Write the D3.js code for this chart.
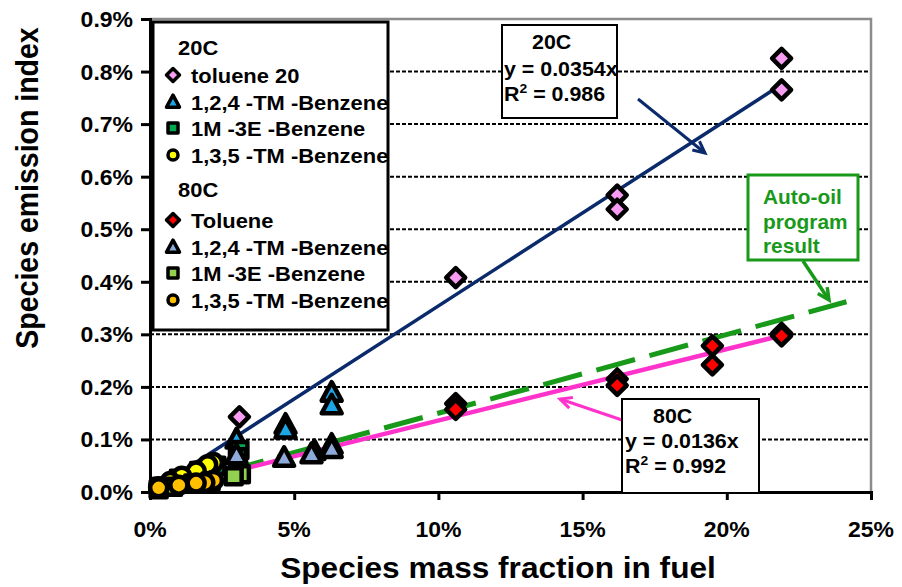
<!DOCTYPE html>
<html>
<head>
<meta charset="utf-8">
<script src="https://cdn.jsdelivr.net/npm/d3@7"></script>
<style>
  html, body { margin: 0; padding: 0; background: #fff; }
  svg { display: block; }
  text { font-family: "Liberation Sans", Arial, sans-serif; font-weight: bold; }
</style>
</head>
<body>
<svg id="chart" width="902" height="587"></svg>
<script>
// Axis ticks (percent)
const xTicks = [0, 5, 10, 15, 20, 25];
const yTicks = [0, 0.1, 0.2, 0.3, 0.4, 0.5, 0.6, 0.7, 0.8, 0.9];

// Measured points: [mass fraction in fuel %, emission index %]
const toluene20 = [[21.9, 0.825], [21.9, 0.765], [16.2, 0.565], [16.2, 0.538], [10.6, 0.408], [3.1, 0.143]];
const tmb124_20 = [[6.3, 0.189], [6.3, 0.165], [4.7, 0.128], [4.7, 0.119], [3.0, 0.100]];
const m3e_20 = [[3.1, 0.080], [3.05, 0.066], [2.3, 0.050], [1.7, 0.040], [1.0, 0.025], [0.4, 0.010]];
const tmb135_20 = [[2.2, 0.056], [2.0, 0.052], [1.6, 0.040], [1.1, 0.030], [0.7, 0.020], [0.3, 0.010]];
const toluene80 = [[21.9, 0.302], [21.9, 0.297], [19.5, 0.278], [19.5, 0.242], [16.2, 0.215], [16.2, 0.203], [10.6, 0.168], [10.6, 0.157]];
const tmb124_80 = [[6.3, 0.090], [6.3, 0.082], [5.7, 0.078], [5.6, 0.072], [4.65, 0.065], [3.0, 0.070]];
const m3e_80 = [[3.15, 0.034], [2.9, 0.030], [2.1, 0.020], [1.5, 0.016], [0.8, 0.010], [0.3, 0.005]];
const tmb135_80 = [[2.2, 0.022], [1.9, 0.018], [1.6, 0.017], [1.0, 0.013], [0.3, 0.008]];

// Fitted trend lines through the origin: slope and x extent
const fit20 = { slope: 0.0354, x0: 0.3, x1: 21.9 };
const fit80 = { slope: 0.0136, x0: 0.3, x1: 21.9 };
// Auto-oil program result line: two end points
const autoOil = [[2.6, 0.039], [24.15, 0.362]];

const svg = d3.select("#chart");
const SX = 1.07; // horizontal widening of the lettering

const x = d3.scaleLinear().domain([0, 25]).range([150, 871]);
const y = d3.scaleLinear().domain([0, 0.9]).range([492, 19]);

function label(g, txt, px, py, size, anchor, fill, sx) {
  return g.append("text")
    .attr("transform", `translate(${px},${py}) scale(${sx || SX},1)`)
    .attr("text-anchor", anchor || "start")
    .attr("font-size", size)
    .attr("fill", fill || "#000")
    .text(txt);
}

// Dashed gridlines
svg.append("g").selectAll("line")
  .data(yTicks.filter(d => d > 0 && d < 0.9))
  .join("line")
  .attr("x1", x(0)).attr("x2", x(25))
  .attr("y1", d => y(d)).attr("y2", d => y(d))
  .attr("stroke", "#000").attr("stroke-width", 2)
  .attr("stroke-dasharray", "4,2");

// Plot frame (top and right)
svg.append("path")
  .attr("d", `M${x(0)},${y(0.9)} H${x(25)} V${y(0)}`)
  .attr("fill", "none").attr("stroke", "#8c8c8c").attr("stroke-width", 2.5);

// Axes
const xAxis = d3.axisBottom(x).tickValues(xTicks).tickSize(8).tickFormat("");
const yAxis = d3.axisLeft(y).tickValues(yTicks).tickSize(9).tickFormat("");
const gx = svg.append("g").attr("transform", `translate(0,${y(0)})`).call(xAxis);
const gy = svg.append("g").attr("transform", `translate(${x(0)},0)`).call(yAxis);
[gx, gy].forEach(g => {
  g.select(".domain").attr("stroke", "#000").attr("stroke-width", 3);
  g.selectAll(".tick line").attr("stroke", "#000").attr("stroke-width", 3);
});

// Tick labels
const tl = svg.append("g");
xTicks.forEach(t => label(tl, t + "%", x(t), 537, 21.5, "middle"));
yTicks.forEach(t => label(tl, t.toFixed(1) + "%", 133, y(t) + 8, 21.5, "end"));

// Axis titles
label(svg, "Species mass fraction in fuel", 498, 578, 29, "middle", "#000", 1.09);
svg.append("text")
  .attr("transform", `translate(38,188) rotate(-90) scale(1,1.1)`)
  .attr("text-anchor", "middle").attr("font-size", 28.5)
  .text("Species emission index");

// Trend lines
const line = d3.line().x(d => x(d[0])).y(d => y(d[1]));
const fitPts = f => [[f.x0, f.slope * f.x0], [f.x1, f.slope * f.x1]];
const lines = svg.append("g");
lines.append("path").attr("d", line(autoOil))
  .attr("stroke", "#18991a").attr("stroke-width", 5).attr("fill", "none")
  .attr("stroke-dasharray", "40,15");
lines.append("path").attr("d", line(fitPts(fit80)))
  .attr("stroke", "#ff33cc").attr("stroke-width", 4.5).attr("fill", "none");
lines.append("path").attr("d", line(fitPts(fit20)))
  .attr("stroke", "#0b2a6b").attr("stroke-width", 3.5).attr("fill", "none");

// Marker shapes
const shapes = {
  diamond: r => `M0,${-r}L${r},0L0,${r}L${-r},0Z`,
  triangle: r => `M0,${-r * 1.05}L${r},${r * 0.8}L${-r},${r * 0.8}Z`,
  square: r => `M${-r},${-r}H${r}V${r}H${-r}Z`,
  circle: r => `M${r},0A${r},${r} 0 1,1 ${-r},0A${r},${r} 0 1,1 ${r},0Z`
};

const series = [
  { name: "toluene 20", data: toluene20, shape: "diamond", r: 9.5, fill: "#f79cf2" },
  { name: "1,2,4 -TM -Benzene", data: tmb124_20, shape: "triangle", r: 10, fill: "#1ba7e6" },
  { name: "1M -3E -Benzene", data: m3e_20, shape: "square", r: 8, fill: "#00a651" },
  { name: "1,3,5 -TM -Benzene", data: tmb135_20, shape: "circle", r: 8.5, fill: "#ffff00" },
  { name: "Toluene", data: toluene80, shape: "diamond", r: 9.5, fill: "#ff0000" },
  { name: "1,2,4 -TM -Benzene", data: tmb124_80, shape: "triangle", r: 10, fill: "#8eaadb" },
  { name: "1M -3E -Benzene", data: m3e_80, shape: "square", r: 8, fill: "#92d050" },
  { name: "1,3,5 -TM -Benzene", data: tmb135_80, shape: "circle", r: 8.5, fill: "#ffc000" }
];

const pts = svg.append("g");
series.forEach(s => {
  pts.append("g").selectAll("path")
    .data(s.data)
    .join("path")
    .attr("transform", d => `translate(${x(d[0])},${y(d[1])})`)
    .attr("d", shapes[s.shape](s.r))
    .attr("fill", s.fill)
    .attr("stroke", "#000").attr("stroke-width", 4.5)
    .attr("stroke-linejoin", "round");
});

// Legend
const lg = svg.append("g");
lg.append("rect").attr("x", 153).attr("y", 22).attr("width", 235).attr("height", 308)
  .attr("fill", "#fff").attr("stroke", "#000").attr("stroke-width", 3);
const rowsY = [75, 102, 128, 155, 220, 247, 273, 300];
label(lg, "20C", 178, 55, 20.5);
label(lg, "80C", 178, 197, 20.5);
series.forEach((s, i) => {
  lg.append("path")
    .attr("transform", `translate(173,${rowsY[i]})`)
    .attr("d", shapes[s.shape](s.shape === "triangle" ? 6.5 : (s.shape === "diamond" ? 6.5 : 5)))
    .attr("fill", s.fill).attr("stroke", "#000").attr("stroke-width", 3.5)
    .attr("stroke-linejoin", "round");
  label(lg, s.name, 191, rowsY[i] + 7.5, 20.5);
});

// Arrows
function arrow(g, x1, y1, x2, y2, color, w) {
  g.append("line").attr("x1", x1).attr("y1", y1).attr("x2", x2).attr("y2", y2)
    .attr("stroke", color).attr("stroke-width", w);
  const a = Math.atan2(y2 - y1, x2 - x1), L = 13, spread = 0.45;
  const p1 = [x2 - L * Math.cos(a - spread), y2 - L * Math.sin(a - spread)];
  const p2 = [x2 - L * Math.cos(a + spread), y2 - L * Math.sin(a + spread)];
  g.append("path").attr("d", `M${p1}L${x2},${y2}L${p2}`)
    .attr("fill", "none").attr("stroke", color).attr("stroke-width", w)
    .attr("stroke-linejoin", "miter");
}
const ann = svg.append("g");
arrow(ann, 638, 99, 705, 153, "#0b2a6b", 3);
arrow(ann, 622, 420, 560, 399, "#ff33cc", 3);
arrow(ann, 803, 261, 829, 300, "#18991a", 3.5);

// 20C fit box
ann.append("rect").attr("x", 502).attr("y", 25).attr("width", 115).attr("height", 93)
  .attr("fill", "#fff").attr("stroke", "#000").attr("stroke-width", 2);
label(ann, "20C", 532, 49, 20);
label(ann, `y = ${fit20.slope}x`, 504, 76, 20);
const r20 = label(ann, "R", 504, 101, 20);
r20.append("tspan").attr("dy", -8).attr("font-size", 13).text("2");
r20.append("tspan").attr("dy", 8).text(" = 0.986");

// 80C fit box
ann.append("rect").attr("x", 622).attr("y", 399).attr("width", 137).attr("height", 94)
  .attr("fill", "#fff").attr("stroke", "#000").attr("stroke-width", 2);
label(ann, "80C", 653, 423, 20);
label(ann, `y = ${fit80.slope}x`, 625, 448, 20);
const r80 = label(ann, "R", 625, 473, 20);
r80.append("tspan").attr("dy", -8).attr("font-size", 13).text("2");
r80.append("tspan").attr("dy", 8).text(" = 0.992");

// Auto-oil callout
ann.append("rect").attr("x", 748).attr("y", 175).attr("width", 110).attr("height", 85)
  .attr("fill", "#fff").attr("stroke", "#18991a").attr("stroke-width", 3);
["Auto-oil", "program", "result"].forEach((t, i) =>
  label(ann, t, 763, 204 + i * 24.5, 19.5, "start", "#18991a"));
</script>
</body>
</html>
